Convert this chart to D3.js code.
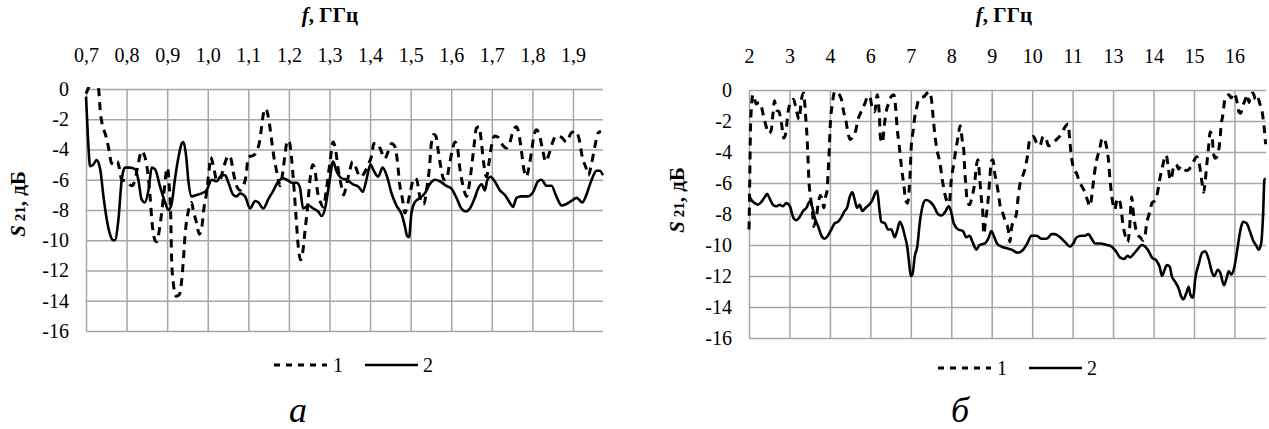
<!DOCTYPE html>
<html>
<head>
<meta charset="UTF-8">
<script src="https://d3js.org/d3.v7.min.js"></script>
<style>
  body { margin: 0; background: #fff; }
  svg text { font-family: "Liberation Serif", "DejaVu Serif", serif !important; fill: #000; }
</style>
</head>
<body>
<div class="myDiv"></div>
<script>
var aTicks = [0.7, 0.8, 0.9, 1.0, 1.1, 1.2, 1.3, 1.4, 1.5, 1.6, 1.7, 1.8, 1.9];
var bTicks = [2, 3, 4, 6, 7, 8, 9, 10, 11, 13, 14, 15, 16];
var yTicks = [0, -2, -4, -6, -8, -10, -12, -14, -16];
var legendNames = ["1", "2"];

// a) 0,7 - 2 GHz, [f GHz, S21 dB]
var aDashed = [[0.700,-0.3],[0.705,0.0],[0.712,0.6],[0.722,0.6],[0.730,0.2],[0.733,-0.6],[0.735,-1.4],[0.739,-2.2],[0.749,-3.1],[0.755,-3.8],[0.763,-4.9],[0.771,-5.0],[0.777,-4.8],[0.782,-5.2],[0.788,-6.0],[0.800,-6.1],[0.813,-6.4],[0.821,-6.0],[0.829,-4.9],[0.837,-4.1],[0.841,-4.2],[0.850,-5.1],[0.858,-7.1],[0.862,-8.6],[0.870,-10.0],[0.874,-10.1],[0.882,-9.1],[0.891,-7.1],[0.899,-5.3],[0.901,-5.2],[0.905,-6.4],[0.909,-8.6],[0.911,-11.3],[0.915,-12.8],[0.922,-13.7],[0.930,-13.6],[0.936,-12.6],[0.940,-11.3],[0.944,-9.7],[0.952,-8.1],[0.960,-7.5],[0.965,-8.1],[0.973,-8.9],[0.979,-9.6],[0.985,-9.2],[0.991,-7.8],[0.997,-6.9],[1.004,-5.2],[1.007,-4.5],[1.014,-5.1],[1.022,-6.0],[1.030,-6.0],[1.040,-5.1],[1.051,-4.4],[1.057,-4.6],[1.063,-5.5],[1.071,-6.4],[1.080,-6.7],[1.088,-6.4],[1.094,-5.8],[1.100,-4.5],[1.112,-4.4],[1.121,-4.1],[1.129,-3.3],[1.135,-2.0],[1.141,-1.3],[1.145,-1.4],[1.152,-2.3],[1.158,-3.5],[1.163,-4.5],[1.168,-5.2],[1.174,-6.0],[1.178,-6.4],[1.185,-5.5],[1.191,-4.2],[1.196,-3.4],[1.201,-3.5],[1.207,-4.7],[1.211,-6.0],[1.218,-8.6],[1.223,-10.4],[1.229,-11.3],[1.234,-10.8],[1.240,-9.3],[1.246,-7.8],[1.252,-6.0],[1.259,-5.0],[1.265,-5.5],[1.270,-6.7],[1.278,-7.5],[1.285,-7.8],[1.292,-6.7],[1.301,-4.9],[1.309,-3.5],[1.316,-4.2],[1.321,-5.2],[1.330,-6.5],[1.335,-7.0],[1.342,-6.3],[1.349,-5.5],[1.357,-4.8],[1.365,-5.2],[1.375,-5.8],[1.387,-5.5],[1.395,-5.0],[1.404,-4.4],[1.409,-3.6],[1.418,-3.6],[1.426,-4.0],[1.436,-4.6],[1.445,-4.1],[1.453,-3.6],[1.461,-3.8],[1.467,-4.7],[1.473,-6.3],[1.480,-7.3],[1.486,-8.2],[1.491,-7.8],[1.500,-6.7],[1.508,-5.9],[1.515,-6.0],[1.521,-6.9],[1.527,-7.6],[1.533,-7.6],[1.539,-6.7],[1.546,-5.3],[1.551,-3.6],[1.557,-3.0],[1.562,-3.1],[1.568,-4.1],[1.574,-5.1],[1.582,-6.0],[1.588,-6.0],[1.595,-5.1],[1.603,-4.0],[1.609,-3.5],[1.615,-3.8],[1.621,-5.2],[1.629,-6.4],[1.638,-7.1],[1.644,-6.4],[1.650,-5.2],[1.656,-3.8],[1.662,-2.6],[1.669,-2.5],[1.675,-3.7],[1.680,-4.9],[1.687,-5.8],[1.693,-4.9],[1.699,-3.8],[1.707,-3.1],[1.716,-3.2],[1.724,-3.6],[1.736,-3.9],[1.744,-3.6],[1.752,-2.8],[1.761,-2.5],[1.767,-3.0],[1.773,-4.1],[1.779,-5.3],[1.785,-5.8],[1.792,-5.1],[1.798,-4.1],[1.803,-3.2],[1.810,-2.7],[1.817,-3.0],[1.825,-4.0],[1.833,-4.8],[1.841,-4.3],[1.850,-3.5],[1.859,-3.1],[1.872,-3.2],[1.884,-3.5],[1.896,-2.9],[1.907,-2.8],[1.915,-3.3],[1.923,-4.5],[1.932,-5.2],[1.938,-5.7],[1.946,-4.9],[1.954,-3.8],[1.962,-2.9],[1.969,-2.8]];

var aSolid = [[0.700,-0.5],[0.702,-1.6],[0.706,-3.8],[0.710,-5.1],[0.718,-5.0],[0.726,-4.7],[0.735,-5.3],[0.743,-7.1],[0.751,-8.6],[0.759,-9.6],[0.767,-10.0],[0.771,-10.0],[0.780,-8.6],[0.788,-6.0],[0.796,-5.2],[0.808,-5.2],[0.821,-5.3],[0.829,-6.0],[0.837,-7.3],[0.845,-7.5],[0.854,-6.7],[0.862,-5.2],[0.870,-5.3],[0.882,-6.4],[0.895,-7.5],[0.903,-8.0],[0.911,-7.6],[0.919,-6.0],[0.928,-4.5],[0.936,-3.6],[0.940,-3.5],[0.947,-4.5],[0.952,-6.0],[0.960,-7.1],[0.973,-7.0],[0.985,-6.9],[0.997,-6.7],[1.010,-6.0],[1.022,-6.1],[1.034,-5.7],[1.043,-5.7],[1.051,-6.2],[1.063,-7.0],[1.071,-7.1],[1.080,-6.9],[1.092,-7.1],[1.104,-7.9],[1.117,-7.4],[1.125,-7.5],[1.137,-7.9],[1.149,-7.3],[1.162,-6.7],[1.174,-6.1],[1.186,-5.9],[1.195,-6.0],[1.207,-6.2],[1.219,-6.2],[1.227,-6.5],[1.235,-7.9],[1.248,-7.7],[1.260,-7.9],[1.272,-8.1],[1.281,-8.4],[1.289,-7.9],[1.299,-6.3],[1.309,-4.8],[1.317,-5.4],[1.330,-5.9],[1.342,-6.0],[1.358,-6.3],[1.373,-6.5],[1.382,-6.8],[1.391,-6.0],[1.401,-5.0],[1.409,-5.4],[1.420,-5.8],[1.431,-5.2],[1.442,-5.8],[1.453,-6.9],[1.465,-7.7],[1.478,-8.3],[1.486,-9.1],[1.491,-9.7],[1.496,-9.8],[1.502,-8.2],[1.510,-7.5],[1.523,-7.2],[1.535,-6.9],[1.547,-6.3],[1.560,-6.0],[1.572,-6.1],[1.588,-6.4],[1.601,-6.6],[1.613,-7.2],[1.625,-7.9],[1.636,-8.1],[1.646,-7.9],[1.658,-7.2],[1.666,-6.6],[1.675,-6.3],[1.683,-6.7],[1.689,-6.0],[1.697,-5.8],[1.707,-6.1],[1.720,-6.7],[1.732,-7.0],[1.744,-7.5],[1.752,-7.8],[1.761,-7.2],[1.773,-7.1],[1.789,-7.1],[1.802,-6.8],[1.814,-6.1],[1.822,-6.0],[1.835,-6.4],[1.847,-6.4],[1.859,-7.1],[1.872,-7.7],[1.884,-7.6],[1.896,-7.4],[1.909,-7.2],[1.923,-7.5],[1.933,-7.0],[1.946,-6.0],[1.958,-5.4],[1.966,-5.4],[1.974,-5.7]];

// б) 2 - 17 GHz
var bDashed = [[2.00,-9.0],[2.01,-7.5],[2.02,-5.5],[2.03,-3.5],[2.05,-1.5],[2.10,-0.3],[2.18,-0.9],[2.25,-0.8],[2.31,-1.1],[2.36,-1.7],[2.43,-2.4],[2.49,-2.8],[2.55,-2.6],[2.59,-1.6],[2.63,-0.7],[2.68,-1.3],[2.74,-1.4],[2.80,-2.1],[2.86,-3.1],[2.92,-2.6],[2.96,-1.5],[3.05,-0.7],[3.10,-0.6],[3.17,-1.3],[3.24,-1.9],[3.29,-0.7],[3.35,-0.2],[3.40,-1.7],[3.43,-2.8],[3.46,-4.5],[3.48,-5.8],[3.52,-6.9],[3.57,-7.9],[3.60,-8.8],[3.65,-8.4],[3.71,-7.4],[3.76,-6.8],[3.81,-7.1],[3.85,-7.6],[3.90,-6.8],[3.93,-6.5],[3.95,-5.6],[3.98,-4.1],[4.02,-2.2],[4.12,-0.9],[4.24,-0.1],[4.40,-0.2],[4.57,-0.6],[4.68,-1.4],[4.78,-1.9],[4.90,-2.8],[5.01,-3.2],[5.14,-3.0],[5.28,-2.6],[5.39,-1.9],[5.51,-1.5],[5.61,-1.2],[5.72,-0.9],[5.84,-0.5],[5.97,-0.4],[6.04,-1.1],[6.11,-1.4],[6.17,-0.3],[6.22,-1.5],[6.25,-3.1],[6.30,-3.4],[6.34,-2.4],[6.40,-1.3],[6.46,-0.8],[6.52,-0.4],[6.58,-0.3],[6.63,-1.3],[6.66,-2.4],[6.71,-3.5],[6.77,-5.0],[6.83,-6.2],[6.87,-7.1],[6.92,-7.3],[6.96,-6.4],[6.99,-5.0],[7.01,-3.7],[7.06,-2.6],[7.10,-1.7],[7.14,-1.2],[7.20,-0.6],[7.26,-0.5],[7.34,-0.4],[7.40,-0.2],[7.45,-0.1],[7.51,-0.6],[7.55,-1.7],[7.59,-2.8],[7.65,-3.9],[7.72,-4.7],[7.78,-5.8],[7.84,-6.7],[7.90,-7.2],[7.95,-7.3],[8.00,-5.8],[8.06,-4.8],[8.11,-3.9],[8.17,-3.0],[8.22,-2.3],[8.27,-3.2],[8.31,-3.9],[8.33,-5.1],[8.36,-6.1],[8.39,-7.1],[8.45,-7.4],[8.52,-6.8],[8.58,-6.0],[8.62,-4.9],[8.66,-4.5],[8.70,-5.6],[8.74,-6.9],[8.79,-8.4],[8.80,-9.3],[8.85,-8.4],[8.91,-7.1],[8.95,-5.8],[8.99,-4.6],[9.03,-4.5],[9.07,-5.3],[9.12,-6.0],[9.16,-6.6],[9.21,-7.5],[9.28,-8.0],[9.35,-8.6],[9.40,-8.9],[9.45,-9.8],[9.49,-8.9],[9.55,-8.4],[9.61,-8.0],[9.65,-7.0],[9.69,-6.2],[9.76,-5.6],[9.82,-5.1],[9.88,-4.3],[9.93,-3.3],[9.96,-3.1],[10.03,-3.0],[10.11,-3.4],[10.19,-3.6],[10.27,-3.0],[10.34,-3.1],[10.40,-3.6],[10.48,-3.5],[10.56,-3.3],[10.64,-3.1],[10.73,-2.8],[10.81,-2.4],[10.89,-2.2],[10.93,-3.3],[10.98,-4.5],[11.07,-5.1],[11.20,-5.4],[11.33,-5.9],[11.45,-6.2],[11.61,-6.6],[11.73,-7.1],[11.86,-7.5],[11.94,-6.9],[12.02,-6.0],[12.11,-5.1],[12.19,-4.5],[12.32,-3.9],[12.44,-3.2],[12.52,-3.1],[12.65,-3.5],[12.77,-4.5],[12.85,-5.8],[12.93,-6.8],[13.01,-7.5],[13.05,-7.7],[13.09,-7.1],[13.13,-7.0],[13.19,-7.5],[13.24,-8.6],[13.30,-9.4],[13.36,-9.8],[13.40,-9.2],[13.46,-6.9],[13.50,-7.9],[13.55,-8.8],[13.60,-9.3],[13.67,-9.5],[13.74,-9.7],[13.79,-9.4],[13.83,-8.6],[13.88,-8.1],[13.92,-7.7],[13.96,-7.3],[14.04,-7.1],[14.10,-6.6],[14.15,-5.8],[14.21,-5.1],[14.26,-4.5],[14.31,-4.2],[14.37,-5.1],[14.41,-5.8],[14.45,-5.6],[14.50,-4.9],[14.56,-4.8],[14.62,-5.1],[14.68,-4.9],[14.74,-5.1],[14.83,-5.2],[14.91,-5.0],[14.99,-4.6],[15.07,-4.3],[15.14,-4.9],[15.20,-6.0],[15.24,-6.6],[15.28,-5.8],[15.32,-4.7],[15.36,-3.7],[15.40,-2.7],[15.45,-3.1],[15.49,-4.2],[15.53,-4.4],[15.59,-4.1],[15.64,-3.3],[15.67,-2.3],[15.72,-1.5],[15.75,-0.8],[15.80,-0.4],[15.86,-0.3],[15.92,-0.5],[15.98,-0.2],[16.05,-0.6],[16.11,-1.4],[16.15,-1.5],[16.21,-1.0],[16.27,-0.6],[16.31,-0.3],[16.36,-0.8],[16.40,-0.3],[16.46,-0.2],[16.52,-0.6],[16.56,-0.4],[16.63,-0.9],[16.69,-1.5],[16.73,-2.3],[16.77,-3.5]];

var bSolid = [[2.00,-6.8],[2.06,-7.1],[2.14,-7.3],[2.22,-7.4],[2.31,-7.2],[2.39,-6.9],[2.45,-6.7],[2.51,-7.0],[2.59,-7.4],[2.68,-7.5],[2.76,-7.4],[2.84,-7.5],[2.92,-7.3],[3.01,-7.5],[3.09,-8.2],[3.17,-8.4],[3.25,-8.2],[3.34,-7.8],[3.42,-7.6],[3.50,-7.2],[3.57,-7.6],[3.62,-8.2],[3.71,-8.8],[3.79,-9.4],[3.87,-9.6],[3.95,-9.4],[4.07,-9.0],[4.24,-8.6],[4.40,-8.5],[4.57,-8.2],[4.73,-7.8],[4.85,-7.6],[4.98,-6.9],[5.11,-6.6],[5.23,-7.1],[5.34,-7.6],[5.47,-7.4],[5.60,-7.8],[5.77,-7.6],[5.94,-7.4],[6.05,-7.1],[6.13,-6.6],[6.17,-6.5],[6.22,-7.6],[6.27,-8.5],[6.36,-8.6],[6.44,-9.0],[6.52,-9.0],[6.60,-9.5],[6.66,-9.1],[6.73,-8.5],[6.79,-8.8],[6.85,-9.4],[6.91,-10.1],[6.96,-11.2],[7.00,-12.0],[7.04,-11.9],[7.10,-10.7],[7.16,-10.1],[7.22,-8.6],[7.29,-7.5],[7.37,-7.1],[7.47,-7.2],[7.57,-7.5],[7.67,-8.0],[7.76,-8.1],[7.84,-7.9],[7.94,-7.5],[8.00,-7.9],[8.06,-8.6],[8.17,-9.0],[8.29,-9.1],[8.37,-9.5],[8.45,-9.4],[8.54,-9.9],[8.62,-10.3],[8.70,-10.0],[8.83,-9.9],[8.93,-9.5],[8.99,-9.1],[9.05,-9.4],[9.13,-9.9],[9.24,-10.1],[9.36,-10.2],[9.49,-10.3],[9.65,-10.5],[9.78,-10.3],[9.88,-9.9],[9.98,-9.4],[10.11,-9.4],[10.23,-9.6],[10.36,-9.6],[10.48,-9.3],[10.56,-9.3],[10.69,-9.5],[10.81,-9.8],[10.93,-10.1],[11.03,-9.9],[11.20,-9.5],[11.45,-9.4],[11.61,-9.4],[11.78,-9.3],[11.94,-9.6],[12.11,-9.9],[12.36,-9.9],[12.69,-10.0],[12.93,-10.1],[13.07,-10.4],[13.17,-10.8],[13.27,-10.9],[13.36,-10.7],[13.42,-10.8],[13.50,-10.6],[13.60,-10.3],[13.71,-10.0],[13.79,-10.1],[13.88,-10.4],[13.96,-10.8],[14.07,-11.0],[14.15,-11.4],[14.21,-12.0],[14.26,-11.7],[14.33,-11.3],[14.40,-11.4],[14.45,-12.0],[14.54,-12.4],[14.62,-12.8],[14.68,-13.3],[14.74,-13.5],[14.81,-13.1],[14.87,-12.7],[14.91,-13.2],[14.98,-13.4],[15.03,-12.2],[15.12,-11.2],[15.20,-10.5],[15.28,-10.4],[15.36,-10.9],[15.45,-11.8],[15.50,-12.0],[15.59,-11.6],[15.65,-11.8],[15.74,-12.6],[15.80,-12.2],[15.86,-11.7],[15.92,-11.9],[16.00,-11.4],[16.07,-10.3],[16.15,-9.0],[16.21,-8.5],[16.30,-8.6],[16.38,-9.1],[16.46,-9.7],[16.55,-10.1],[16.60,-10.3],[16.66,-9.9],[16.71,-7.9],[16.74,-5.8],[16.77,-5.7]];

var width = 1269, height = 429;
var gridColor = "#a6a6a6";
var serif = "'Liberation Serif', 'DejaVu Serif', serif";
var dash = "8,6";

var svg = d3.select(".myDiv").append("svg")
  .attr("width", width).attr("height", height)
  .attr("font-family", serif)
  .style("display", "block");

svg.append("rect").attr("width", width).attr("height", height).attr("fill", "#fff");

function drawPanel(p) {
  var g = svg.append("g").attr("font-family", serif);
  var x = p.x;
  var y = d3.scaleLinear().domain([0, -16]).range([p.top, p.bottom]);
  var w = p.right - p.left, h = p.bottom - p.top;

  // top axis with vertical grid
  var xAxis = g.append("g")
    .attr("transform", "translate(0," + p.top + ")")
    .call(d3.axisTop(x).tickValues(p.ticks).tickFormat(p.fmt)
      .tickSizeInner(-h).tickSizeOuter(0).tickPadding(27));
  // left axis with horizontal grid
  var yAxis = g.append("g")
    .attr("transform", "translate(" + p.left + ",0)")
    .call(d3.axisLeft(y).tickValues(yTicks).tickFormat(function(d) { return String(d); })
      .tickSizeInner(-w).tickSizeOuter(0).tickPadding(17));

  [xAxis, yAxis].forEach(function(a) {
    a.attr("font-family", serif).attr("font-size", 20);
    a.select(".domain").remove();
    a.selectAll("line").attr("stroke", gridColor).attr("stroke-width", 1.5);
    a.selectAll("text").attr("fill", "#000").attr("font-family", serif);
  });

  var clipId = "clip" + p.id;
  g.append("clipPath").attr("id", clipId).append("rect")
    .attr("x", p.left - 2).attr("y", p.top - 2).attr("width", w + 4).attr("height", h + 4);

  var line = d3.line()
    .x(function(d) { return x(d[0]); })
    .y(function(d) { return y(d[1]); })
    .curve(d3.curveMonotoneX);

  g.append("path").datum(p.dashed)
    .attr("clip-path", "url(#" + clipId + ")")
    .attr("d", line).attr("fill", "none").attr("stroke", "#000")
    .attr("stroke-width", 3).attr("stroke-dasharray", dash);

  g.append("path").datum(p.solid)
    .attr("clip-path", "url(#" + clipId + ")")
    .attr("d", line).attr("fill", "none").attr("stroke", "#000")
    .attr("stroke-width", 2.6).attr("stroke-linejoin", "round");

  // axis titles
  var t = g.append("text").attr("x", p.titleX).attr("y", 22)
    .attr("text-anchor", "middle").attr("font-size", 21).attr("font-weight", "bold");
  t.append("tspan").attr("font-style", "italic").text("f");
  t.append("tspan").text(", ГГц");

  var yt = g.append("text")
    .attr("transform", "translate(" + p.yTitleX + "," + p.yTitleY + ") rotate(-90)")
    .attr("text-anchor", "middle").attr("font-size", 21).attr("font-weight", "bold");
  yt.append("tspan").attr("font-style", "italic").text("S");
  yt.append("tspan").attr("font-size", 15).attr("dx", 4).text("21");
  yt.append("tspan").text(", дБ");

  // legend
  var lg = g.append("g").attr("transform", "translate(" + p.legendX + "," + p.legendY + ")");
  lg.append("line").attr("x1", 0).attr("x2", 53).attr("y1", 0).attr("y2", 0)
    .attr("stroke", "#000").attr("stroke-width", 3).attr("stroke-dasharray", "6,6");
  lg.append("text").attr("x", 59).attr("y", 7).attr("font-size", 20).text(legendNames[0]);
  lg.append("line").attr("x1", 91).attr("x2", 144).attr("y1", 0).attr("y2", 0)
    .attr("stroke", "#000").attr("stroke-width", 2.6);
  lg.append("text").attr("x", 149).attr("y", 7).attr("font-size", 20).text(legendNames[1]);

  g.append("text").attr("x", p.capX).attr("y", 422)
    .attr("text-anchor", "middle").attr("font-size", 36).attr("font-style", "italic")
    .text(p.caption);
}

// panel a
var aLeft = 86, aRight = 603;
var xA = d3.scaleLinear().domain([0.7, 1.974]).range([aLeft, aRight]);

drawPanel({
  id: "a", x: xA, left: aLeft, right: aRight, top: 89, bottom: 331,
  ticks: aTicks, fmt: function(d) { return d3.format(".1f")(d).replace(".", ","); },
  dashed: aDashed, solid: aSolid,
  titleX: 330, yTitleX: 25, yTitleY: 204,
  legendX: 274, legendY: 365, capX: 298, caption: "а"
});

// panel b: category axis with uneven labels
var bLeft = 749, bRight = 1266;
var bStep = (bRight - bLeft) / 12.78;
var xB = d3.scaleLinear()
  .domain(bTicks.concat([16.78]))
  .range(bTicks.map(function(d, i) { return bLeft + i * bStep; }).concat([bRight]));

drawPanel({
  id: "b", x: xB, left: bLeft, right: bRight, top: 90, bottom: 338,
  ticks: bTicks, fmt: function(d) { return String(d); },
  dashed: bDashed, solid: bSolid,
  titleX: 1004, yTitleX: 684, yTitleY: 200,
  legendX: 938, legendY: 368, capX: 960, caption: "б"
});
</script>
</body>
</html>
